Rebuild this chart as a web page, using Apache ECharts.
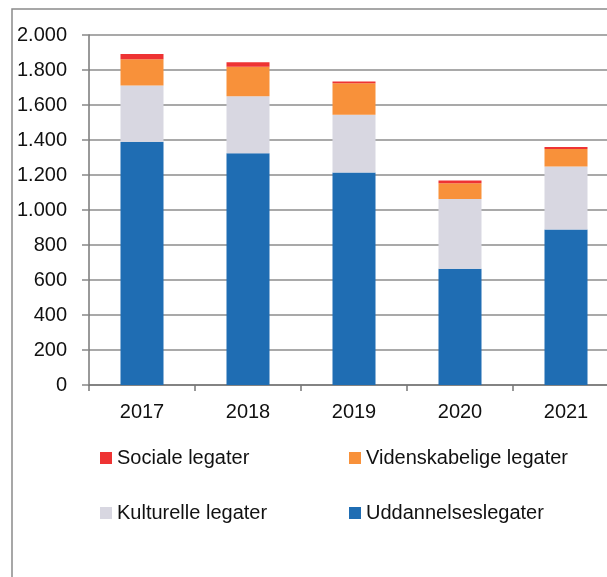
<!DOCTYPE html>
<html>
<head>
<meta charset="utf-8">
<script src="https://cdn.jsdelivr.net/npm/echarts@6/dist/echarts.min.js"></script>
<style>
    html, body {margin: 0; padding: 0; background: #fff;}
    #legaterChart {width: 607px; height: 577px;}
</style>
</head>
<body>
<div id="legaterChart"></div>
<script>
var years = ['2017', '2018', '2019', '2020', '2021'];
var uddannelseslegater = [1390, 1325, 1215, 665, 888];
var kulturelleLegater = [322, 325, 330, 398, 360];
var videnskabeligeLegater = [150, 168, 180, 90, 100];
var socialeLegater = [30, 27, 10, 15, 12];
var yTicks = [0, 200, 400, 600, 800, 1000, 1200, 1400, 1600, 1800, 2000];

var legaterChart = echarts.init(document.getElementById('legaterChart'));
drawLegaterChart();

// 2000 -> "2.000"
function danishNumber(v) {
    return String(v).replace(/\B(?=(\d{3})+(?!\d))/g, '.');
}

function drawLegaterChart() {
    var font = 'Liberation Sans';
    var legendText = {fontFamily: font, fontSize: 20, color: '#111'};
    var option = {
        animation: false,
        backgroundColor: '#fff',
        textStyle: {fontFamily: font},
        graphic: [{
            type: 'rect',
            shape: {x: 12, y: 9, width: 640, height: 620},
            style: {fill: 'none', stroke: '#8a8a8a', lineWidth: 1.5},
            silent: true
        }],
        legend: [{
            orient: 'vertical',
            left: 100,
            top: 448,
            padding: 0,
            itemWidth: 12,
            itemHeight: 12,
            itemGap: 35,
            itemTextGap: 5,
            icon: 'rect',
            textStyle: legendText,
            data: ['Sociale legater', 'Kulturelle legater']
        }, {
            orient: 'vertical',
            left: 349,
            top: 448,
            padding: 0,
            itemWidth: 12,
            itemHeight: 12,
            itemGap: 35,
            itemTextGap: 5,
            icon: 'rect',
            textStyle: legendText,
            data: ['Videnskabelige legater', 'Uddannelseslegater']
        }],
        grid: {
            left: 89,
            width: 530,
            top: 35,
            height: 350,
            containLabel: false,
            outerBoundsMode: 'none'
        },
        xAxis: {
            type: 'category',
            data: years,
            axisLine: {lineStyle: {color: '#777', width: 1.5}},
            axisTick: {show: true, length: 6, lineStyle: {color: '#777', width: 1.5}},
            axisLabel: {fontFamily: font, fontSize: 20, color: '#111', margin: 17}
        },
        yAxis: {
            type: 'value',
            min: yTicks[0],
            max: yTicks[yTicks.length - 1],
            interval: yTicks[1] - yTicks[0],
            axisLine: {show: true, lineStyle: {color: '#777', width: 1.5}},
            axisTick: {show: true, length: 7, lineStyle: {color: '#888', width: 1.5}},
            splitLine: {lineStyle: {color: '#8c8c8c', width: 1.5}},
            axisLabel: {
                fontFamily: font, fontSize: 20, color: '#111', margin: 22,
                formatter: function (v) { return danishNumber(v); }
            }
        },
        series: [
            {name: 'Uddannelseslegater', type: 'bar', stack: 'legater', barWidth: 43,
                itemStyle: {color: '#1f6db3'}, data: uddannelseslegater},
            {name: 'Kulturelle legater', type: 'bar', stack: 'legater', barWidth: 43,
                itemStyle: {color: '#d8d7e1'}, data: kulturelleLegater},
            {name: 'Videnskabelige legater', type: 'bar', stack: 'legater', barWidth: 43,
                itemStyle: {color: '#f8913a'}, data: videnskabeligeLegater},
            {name: 'Sociale legater', type: 'bar', stack: 'legater', barWidth: 43,
                itemStyle: {color: '#ee3333'}, data: socialeLegater}
        ]
    };
    legaterChart.setOption(option);
}
</script>
</body>
</html>
